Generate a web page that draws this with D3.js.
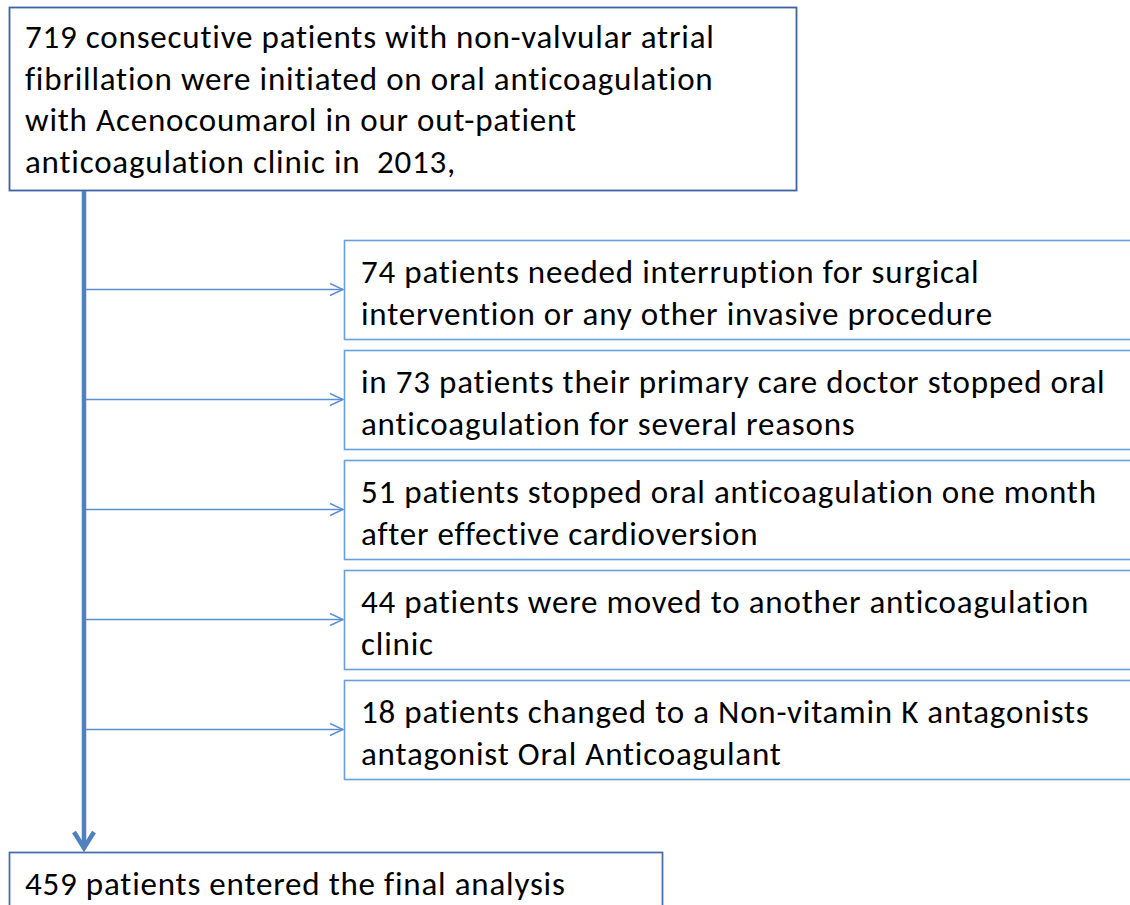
<!DOCTYPE html>
<html><head><meta charset="utf-8">
<script src="https://cdn.jsdelivr.net/npm/d3@7"></script>
<style>html,body{margin:0;padding:0;background:#fff;overflow:hidden} text{white-space:pre}</style>
</head><body>
<svg id="c" width="1130" height="905"></svg>
<script>
// ---- data ----
const startCount = 719;
const startLines = [
  "719 consecutive patients with non-valvular atrial",
  "fibrillation were initiated on oral anticoagulation",
  "with Acenocoumarol in our out-patient",
  "anticoagulation clinic in  2013,"
];
const exclusionCounts = [74, 73, 51, 44, 18];
const exclusionLines = [
  ["74 patients needed interruption for surgical", "intervention or any other invasive procedure"],
  ["in 73 patients their primary care doctor stopped oral", "anticoagulation for several reasons"],
  ["51 patients stopped oral anticoagulation one month", "after effective cardioversion"],
  ["44 patients were moved to another anticoagulation", "clinic"],
  ["18 patients changed to a Non-vitamin K antagonists", "antagonist Oral Anticoagulant"]
];
const finalCount = 459;
const finalLines = ["459 patients entered the final analysis"];

// ---- drawing ----
const svg = d3.select("#c");
const FONT = "Carlito, Lato, 'Open Sans', sans-serif";
const FS = 33;
const LS = 0.8;
const lineH = 41.5;

const yStep = d3.scaleLinear().domain([0, exclusionCounts.length]).range([240, 240 + 110 * exclusionCounts.length]);

function drawLines(g, lines, x, y0) {
  g.selectAll("text").data(lines).join("text")
    .attr("x", x).attr("y", (d, i) => y0 + i * lineH)
    .attr("font-family", FONT).attr("font-size", FS).attr("letter-spacing", LS)
    .attr("xml:space", "preserve").attr("fill", "#000")
    .text(d => d);
}

// top box
svg.append("rect").attr("x", 9.5).attr("y", 7.5).attr("width", 787).attr("height", 183)
  .attr("fill", "#fff").attr("stroke", "#3d63a0").attr("stroke-width", 1.8);
drawLines(svg.append("g"), startLines, 25, 48);

// main vertical arrow
const mainX = 84;
svg.append("line").attr("x1", mainX).attr("x2", mainX).attr("y1", 191).attr("y2", 848)
  .attr("stroke", "#4f81bd").attr("stroke-width", 4.5);
svg.append("path").attr("d", `M${mainX-10},${832} L${mainX},${848} L${mainX+10},${832}`)
  .attr("fill", "none").attr("stroke", "#4f81bd").attr("stroke-width", 4.5)
  .attr("stroke-linejoin", "miter").attr("stroke-linecap", "butt");

// exclusion boxes
const boxX = 344, boxH = 99;
exclusionLines.forEach((lines, i) => {
  const top = yStep(i);
  const mid = top + boxH / 2;
  const g = svg.append("g");
  g.append("line").attr("x1", mainX + 2).attr("x2", boxX - 1).attr("y1", mid).attr("y2", mid)
    .attr("stroke", "#5a8fd6").attr("stroke-width", 1.4);
  g.append("path").attr("d", `M${boxX-14},${mid-6} L${boxX-1},${mid} L${boxX-14},${mid+6}`)
    .attr("fill", "none").attr("stroke", "#5a8fd6").attr("stroke-width", 1.4);
  g.append("rect").attr("x", boxX + 0.5).attr("y", top + 0.5).attr("width", 820).attr("height", boxH)
    .attr("fill", "#fff").attr("stroke", "#6a9ee0").attr("stroke-width", 1.6);
  drawLines(g.append("g"), lines, 361, top + 43);
});

// final box
svg.append("rect").attr("x", 9.5).attr("y", 852.5).attr("width", 653).attr("height", 100)
  .attr("fill", "#fff").attr("stroke", "#4a6fa8").attr("stroke-width", 1.8);
drawLines(svg.append("g"), finalLines, 25, 895);
</script>
</body></html>
